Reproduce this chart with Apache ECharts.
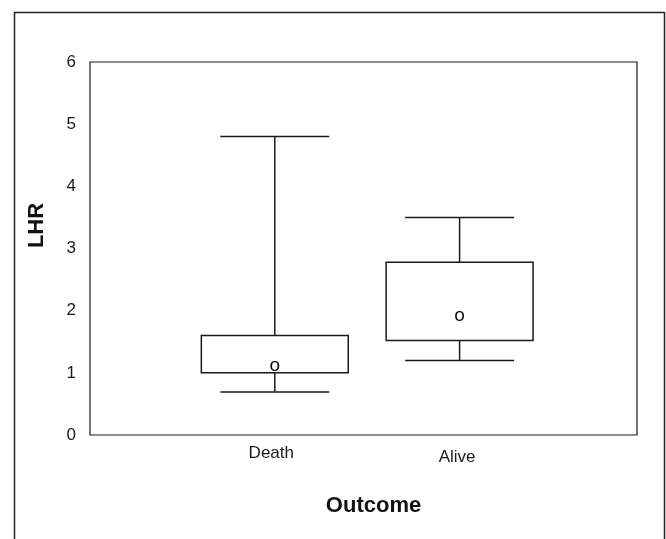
<!DOCTYPE html>
<html>
<head>
<meta charset="utf-8">
<script src="https://cdn.jsdelivr.net/npm/echarts@6/dist/echarts.min.js"></script>
<style>html,body{margin:0;padding:0;background:#fff;}#c{width:666px;height:539px;}</style>
</head>
<body>
<div id="c"></div>
<script>
// Data
var categories = ['Death', 'Alive'];
var groupPosition = [1, 2];
var lowerWhisker = [0.69, 1.20];
var q1 = [1.00, 1.52];
var q3 = [1.60, 2.78];
var upperWhisker = [4.80, 3.50];
var meanValue = [1.12, 1.92];
var yTicks = [0, 6, 1];
var xRange = [0, 2.96];

var seriesData = groupPosition.map(function (g, i) {
  return [g, lowerWhisker[i], q1[i], q3[i], upperWhisker[i], meanValue[i]];
});

var chart = echarts.init(document.getElementById('c'), null, {renderer: 'canvas'});
var lineStyle = {stroke: '#1a1a1a', lineWidth: 1.5, fill: null};

chart.setOption({
  animation: false,
  backgroundColor: '#fff',
  graphic: [{
    type: 'rect', left: 12, top: 10, silent: true,
    shape: {width: 650, height: 560},
    style: {fill: null, stroke: '#222', lineWidth: 1.5}
  }],
  grid: {left: 90, top: 62, right: 29, bottom: 104, show: true, borderColor: '#1a1a1a', borderWidth: 1.2, backgroundColor: 'transparent'},
  xAxis: {
    type: 'value', min: xRange[0], max: xRange[1], interval: 1,
    axisLine: {show: false}, axisTick: {show: false}, splitLine: {show: false},
    axisLabel: {
      margin: 10, color: '#1a1a1a', fontFamily: 'Liberation Sans', fontSize: 17,
      showMinLabel: true, showMaxLabel: false,
      formatter: function (v) {
        var i = groupPosition.indexOf(v);
        if (i < 0) return '';
        return (i === 0 ? '{d|' : '{a|') + categories[i] + '}';
      },
      rich: {
        d: {fontFamily: 'Liberation Sans', fontSize: 17, color: '#1a1a1a', padding: [0, 7, 0, 0]},
        a: {fontFamily: 'Liberation Sans', fontSize: 17, color: '#1a1a1a', padding: [4, 5, 0, 0]}
      }
    },
    name: 'Outcome', nameLocation: 'middle', nameGap: 60,
    nameTextStyle: {fontFamily: 'Liberation Sans', fontWeight: 'bold', fontSize: 22, color: '#111', padding: [0, 0, 0, 20]}
  },
  yAxis: {
    type: 'value', min: yTicks[0], max: yTicks[1], interval: yTicks[2],
    axisLine: {show: false}, axisTick: {show: false}, splitLine: {show: false},
    axisLabel: {margin: 14, color: '#1a1a1a', fontFamily: 'Liberation Sans', fontSize: 17},
    name: 'LHR', nameLocation: 'middle', nameGap: 42,
    nameTextStyle: {fontFamily: 'Liberation Sans', fontWeight: 'bold', fontSize: 22, color: '#111', padding: [0, 0, 0, 46]}
  },
  series: [{
    type: 'custom',
    data: seriesData,
    renderItem: function (params, api) {
      var x = api.value(0);
      var unit = api.size([1, 0])[0];
      var boxW = unit * 0.795, capW = unit * 0.59;
      var pLow = api.coord([x, api.value(1)]);
      var pQ1 = api.coord([x, api.value(2)]);
      var pQ3 = api.coord([x, api.value(3)]);
      var pHigh = api.coord([x, api.value(4)]);
      var pMean = api.coord([x, api.value(5)]);
      var cx = pQ1[0];
      return {
        type: 'group',
        children: [
          {type: 'line', shape: {x1: cx, y1: pHigh[1], x2: cx, y2: pQ3[1]}, style: lineStyle},
          {type: 'line', shape: {x1: cx - capW / 2, y1: pHigh[1], x2: cx + capW / 2, y2: pHigh[1]}, style: lineStyle},
          {type: 'line', shape: {x1: cx, y1: pQ1[1], x2: cx, y2: pLow[1]}, style: lineStyle},
          {type: 'line', shape: {x1: cx - capW / 2, y1: pLow[1], x2: cx + capW / 2, y2: pLow[1]}, style: lineStyle},
          {type: 'rect', shape: {x: cx - boxW / 2, y: pQ3[1], width: boxW, height: pQ1[1] - pQ3[1]}, style: {fill: '#fff', stroke: '#1a1a1a', lineWidth: 1.5}},
          {type: 'text', style: {text: 'o', x: pMean[0], y: pMean[1], align: 'center', verticalAlign: 'middle', font: '19px "Liberation Sans"', fill: '#111'}}
        ]
      };
    }
  }]
});
</script>
</body>
</html>
